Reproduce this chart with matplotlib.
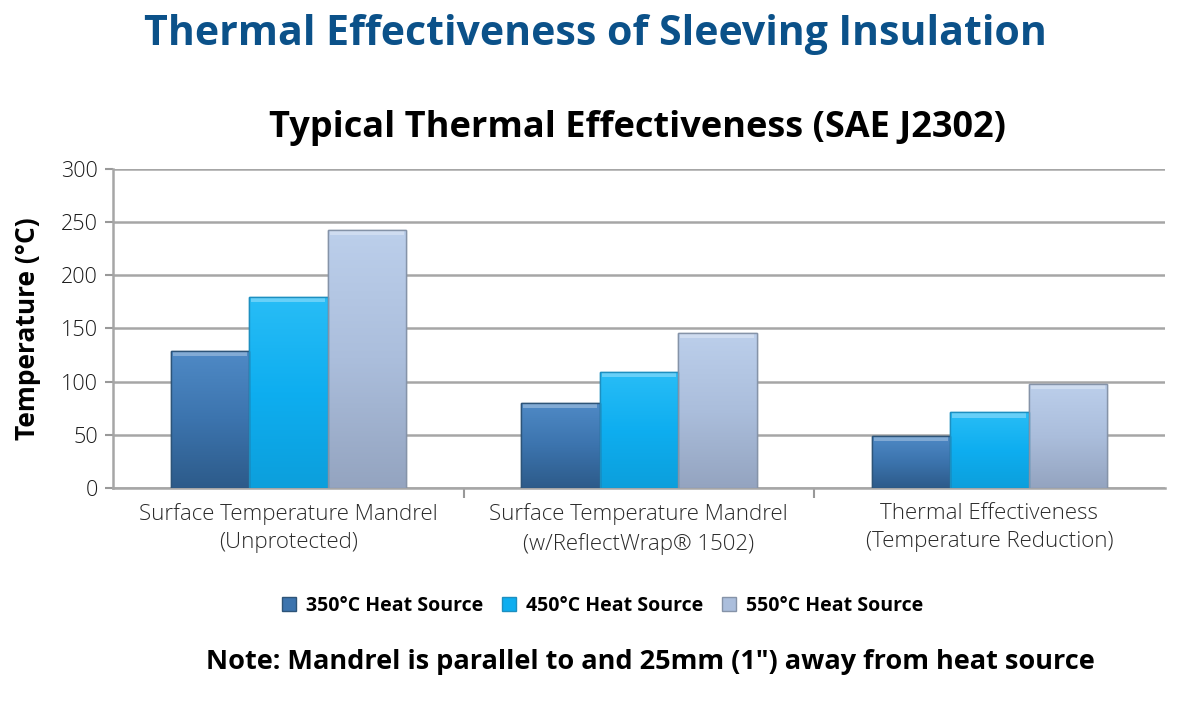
import numpy as np
import matplotlib.pyplot as plt
from matplotlib.colors import LinearSegmentedColormap

# Veriler
categories = ['Surface Temperature Mandrel\n(Unprotected)',
              'Surface Temperature Mandrel\n(w/ReflectWrap® 1502)',
              'Thermal Effectiveness\n(Temperature Reduction)']
series_names = ['350°C Heat Source', '450°C Heat Source', '550°C Heat Source']
temp_350 = [129, 80, 49]
temp_450 = [180, 109, 71]
temp_550 = [243, 146, 98]
yticks = [0, 50, 100, 150, 200, 250, 300]

plt.rcParams['font.family'] = ['Open Sans', 'DejaVu Sans']

# renk geçişleri (üst, orta, alt)
grads = [['#4f8ac6', '#3c74ae', '#2d5b8a'],
         ['#28bdf6', '#0eaef0', '#0c9fdc'],
         ['#bccfeb', '#abbedc', '#94a4c0']]
edge_cols = ['#2d5478', '#1d8fc0', '#8593a8']

fig = plt.figure(figsize=(11.91, 7.01), dpi=100)
ax = fig.add_axes([0.0949, 0.304, 0.883, 0.455])

x = np.arange(len(categories))
w = 0.224
data = [temp_350, temp_450, temp_550]

for i, vals in enumerate(data):
    bars = ax.bar(x + (i - 1) * w, vals, w, color=grads[i][1],
                  edgecolor=edge_cols[i], linewidth=1.0, zorder=3,
                  label=series_names[i])
    cmap = LinearSegmentedColormap.from_list('g%d' % i, grads[i][::-1])
    for b in bars:
        x0, y0 = b.get_x(), b.get_y()
        bw, bh = b.get_width(), b.get_height()
        grad = np.linspace(0, 1, 100).reshape(-1, 1)
        im = ax.imshow(grad, cmap=cmap, origin='lower', aspect='auto',
                       extent=[x0, x0 + bw, y0, y0 + bh], zorder=3.5)
        im.set_clip_path(b)
        # üst kenar parlaklığı
        ax.fill_between([x0 + bw * 0.03, x0 + bw * 0.97],
                        y0 + bh - 5, y0 + bh - 1, color='white',
                        alpha=0.3, linewidth=0, zorder=3.6)
        ax.bar(x0 + bw / 2, bh, bw, fill=False, edgecolor=edge_cols[i],
               linewidth=1.0, zorder=3.7)

ax.set_xlim(-0.5, 2.5)
ax.set_ylim(0, 300)
ax.set_yticks(yticks)
ax.set_yticklabels([str(t) for t in yticks], fontsize=15.5, fontweight='light',
                   color='#1a1a1a')
ax.tick_params(axis='y', colors='#999999', labelcolor='#1a1a1a',
               length=6, width=1.5, pad=5)
ax.set_xticks(x)
ax.set_xticklabels(categories, fontsize=16, fontweight='light', color='#2a2a2a',
                   linespacing=1.45)
ax.tick_params(axis='x', length=0, pad=11)
ax.set_xticks([0.5, 1.5], minor=True)
ax.tick_params(axis='x', which='minor', length=7, width=1.5, colors='#999999')

ax.grid(axis='y', color='#a6a6a6', linewidth=1.8, zorder=0)
for s in ['top', 'right']:
    ax.spines[s].set_visible(False)
for s in ['left', 'bottom']:
    ax.spines[s].set_color('#a6a6a6')
    ax.spines[s].set_linewidth(1.8)

ax.set_ylabel('Temperature (°C)', fontsize=19, fontweight='bold', labelpad=14)

fig.text(0.5, 0.951, 'Thermal Effectiveness of Sleeving Insulation',
         ha='center', va='center', fontsize=29.5, fontweight='bold', color='#0b5189')
fig.text(0.535, 0.818, 'Typical Thermal Effectiveness (SAE J2302)',
         ha='center', va='center', fontsize=26, fontweight='bold', color='black')

handles = [plt.Rectangle((0, 0), 1, 1, facecolor=grads[i][1],
                         edgecolor=edge_cols[i]) for i in range(3)]
fig.legend(handles, series_names, loc='center', bbox_to_anchor=(0.506, 0.136),
           ncol=3, frameon=False, prop={'size': 14, 'weight': 'bold'},
           handlelength=0.7, handleheight=0.7, handletextpad=0.5,
           columnspacing=1.0)

fig.text(0.546, 0.055, 'Note: Mandrel is parallel to and 25mm (1") away from heat source',
         ha='center', va='center', fontsize=19.5, fontweight='bold', color='black')

fig.savefig('out.png', dpi=100)
